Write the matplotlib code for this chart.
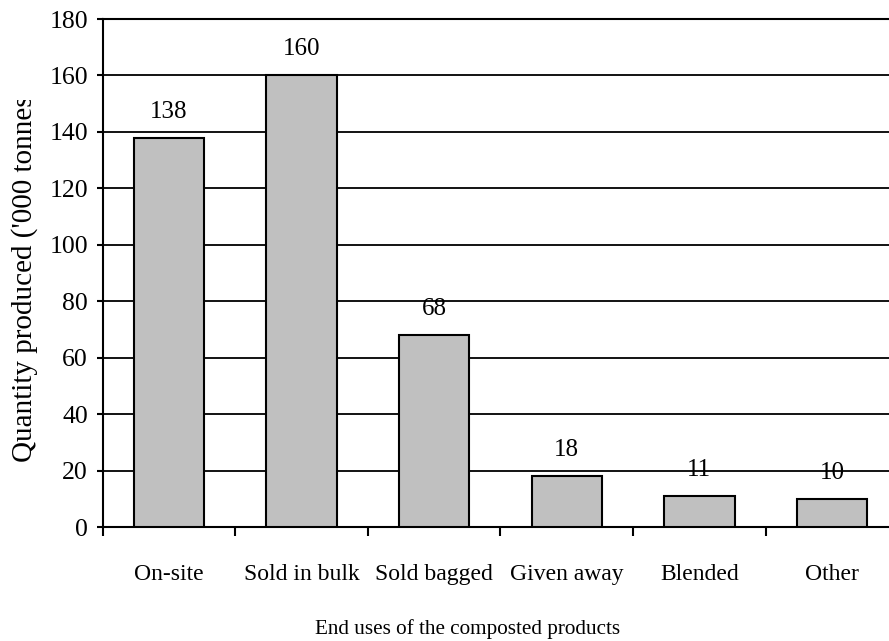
import matplotlib
matplotlib.use("Agg")
import matplotlib.pyplot as plt
from matplotlib.transforms import Bbox
import numpy as np

categories = ["On-site", "Sold in bulk", "Sold bagged", "Given away", "Blended", "Other"]
values = [138, 160, 68, 18, 11, 10]
y_ticks = [0, 20, 40, 60, 80, 100, 120, 140, 160, 180]

plt.rcParams["font.family"] = ["Liberation Serif", "DejaVu Serif"]

W, H = 889, 641
fig = plt.figure(figsize=(W / 100, H / 100), dpi=100)
left, right = 102.7, 102.7 + 6 * 132.6
top, bottom = 19, 527.3
ax = fig.add_axes([left / W, (H - bottom) / H, (right - left) / W, (bottom - top) / H])

x = np.arange(len(categories))
ax.bar(x, values, width=0.53, color="#C0C0C0", edgecolor="black", linewidth=1.5, zorder=3)

for xi, v in zip(x, values):
    ax.annotate(str(v), (xi, v), xytext=(0, 20), textcoords="offset pixels",
                ha="center", va="baseline", fontsize=18, zorder=1)

ax.set_xlim(-0.5, len(categories) - 0.5)
ax.set_ylim(0, 180)
ax.set_yticks(y_ticks)
ax.yaxis.grid(True, color="black", linewidth=1.3)
for line in ax.get_ygridlines():
    line.set_zorder(2)

ax.set_xticks(np.arange(len(categories) + 1) - 0.5)
ax.set_xticklabels([])
ax.set_xticks(x, minor=True)
ax.set_xticklabels(categories, minor=True, fontsize=17, va="baseline")
ax.tick_params(axis="x", which="minor", length=0, pad=37.9)
ax.tick_params(axis="x", which="major", direction="out", length=6.5, width=1.5)
ax.tick_params(axis="y", direction="out", length=4.3, width=1.5, labelsize=18.5, pad=6.3)

for s in ["left", "bottom", "top", "right"]:
    ax.spines[s].set_linewidth(1.5)
ax.spines["right"].set_visible(False)

fig.text(468 / W, 1 - 634 / H, "End uses of the composted products",
         ha="center", va="baseline", fontsize=15.2)
ylab = fig.text(25 / W, 1 - 274 / H, "Quantity produced ('000 tonnes)",
                ha="center", va="center", rotation=90, fontsize=21)
ylab.set_clip_box(Bbox.from_extents(0, H - 600, 60, H - 100))
ylab.set_clip_on(True)

fig.savefig("out.png", dpi=100)
